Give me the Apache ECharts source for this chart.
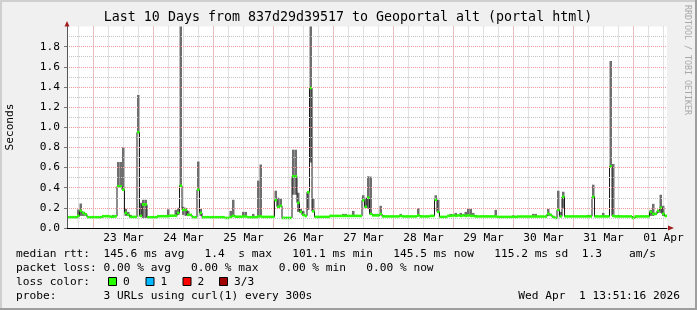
<!DOCTYPE html>
<html><head><meta charset="utf-8">
<script src="https://cdn.jsdelivr.net/npm/echarts@6/dist/echarts.min.js"></script>
<style>html,body{margin:0;padding:0;background:#f0f0f0}#c{width:697px;height:310px}</style>
</head><body><div id="c"></div>
<script>
// ---------------- data ----------------
const titleText = 'Last 10 Days from 837d29d39517 to Geoportal alt (portal html)';
const yAxisName = 'Seconds';
const dayLabels = ['23 Mar','24 Mar','25 Mar','26 Mar','27 Mar','28 Mar','29 Mar','30 Mar','31 Mar','01 Apr'];
const startHour = -10.6;   // graph start, hours relative to 23 Mar 00:00
const stepHours = 1;       // one consolidated step = 1 hour
// median RTT per step (seconds)
const median = [
0.107,0.107,0.107,0.107,0.12,0.17,0.15,0.135,0.107,0.107,
0.107,0.107,0.107,0.107,0.117,0.117,0.117,0.112,0.112,0.117,
0.414,0.414,0.38,0.15,0.13,0.11,0.11,0.11,0.95,0.12,
0.233,0.233,0.107,0.107,0.107,0.107,0.117,0.117,0.117,0.117,
0.117,0.122,0.122,0.122,0.15,0.42,0.18,0.18,0.13,0.13,
0.107,0.107,0.38,0.15,0.107,0.107,0.107,0.107,0.107,0.107,
0.107,0.107,0.107,0.1,0.1,0.11,0.12,0.112,0.112,0.112,
0.115,0.115,0.107,0.107,0.107,0.107,0.115,0.115,0.11,0.11,
0.11,0.11,0.11,0.275,0.21,0.22,0.1,0.1,0.1,0.1,
0.513,0.513,0.25,0.16,0.13,0.12,0.355,1.39,0.166,0.11,
0.11,0.11,0.11,0.11,0.11,0.12,0.12,0.12,0.12,0.12,
0.12,0.12,0.12,0.12,0.12,0.12,0.12,0.12,0.275,0.21,
0.3,0.14,0.125,0.125,0.125,0.14,0.115,0.115,0.115,0.115,
0.115,0.115,0.115,0.12,0.115,0.115,0.115,0.115,0.115,0.115,
0.125,0.115,0.115,0.115,0.115,0.12,0.12,0.28,0.16,0.11,
0.11,0.11,0.12,0.12,0.125,0.12,0.125,0.12,0.125,0.12,
0.125,0.12,0.12,0.115,0.115,0.115,0.115,0.115,0.115,0.115,
0.115,0.115,0.11,0.11,0.11,0.11,0.11,0.11,0.11,0.11,
0.114,0.114,0.114,0.114,0.114,0.114,0.114,0.114,0.114,0.114,
0.114,0.114,0.14,0.13,0.11,0.1,0.18,0.115,0.31,0.115,
0.115,0.115,0.115,0.115,0.115,0.115,0.115,0.115,0.115,0.115,
0.31,0.115,0.115,0.115,0.115,0.115,0.115,0.61,0.12,0.115,
0.115,0.115,0.115,0.115,0.115,0.115,0.1,0.115,0.115,0.115,
0.115,0.115,0.115,0.16,0.14,0.14,0.17,0.2,0.14,0.12
];
// smoke (ping spread) per step: [step index, low, high]
const smoke = [
[4,0.107,0.183],[5,0.12,0.243],[6,0.12,0.16],[7,0.12,0.15],[18,0.112,0.13],
[20,0.414,0.655],[21,0.414,0.655],[22,0.38,0.80],[23,0.12,0.19],[24,0.12,0.16],[25,0.11,0.13],
[28,0.95,1.32],[29,0.12,0.25],[30,0.1,0.28],[31,0.1,0.28],
[40,0.117,0.185],[43,0.122,0.18],[44,0.13,0.2],[45,0.42,2.3],[46,0.13,0.21],[47,0.12,0.2],[48,0.12,0.17],
[52,0.38,0.66],[53,0.12,0.19],
[65,0.11,0.17],[66,0.12,0.28],[70,0.115,0.16],[71,0.115,0.16],[74,0.107,0.14],
[76,0.12,0.47],[77,0.12,0.63],
[83,0.27,0.37],[84,0.2,0.3],[85,0.21,0.29],
[90,0.33,0.777],[91,0.33,0.777],[92,0.16,0.35],[93,0.15,0.19],[94,0.12,0.17],
[96,0.18,0.36],[97,0.65,2.3],[98,0.17,0.29],
[105,0.12,0.13],[110,0.12,0.14],[111,0.12,0.14],[114,0.12,0.17],
[118,0.27,0.325],[119,0.2,0.3],[120,0.19,0.513],[121,0.14,0.51],
[122,0.125,0.14],[123,0.125,0.14],[124,0.125,0.14],[125,0.14,0.22],[126,0.115,0.13],
[133,0.12,0.14],[140,0.125,0.196],[147,0.28,0.325],[148,0.16,0.28],
[153,0.12,0.14],[155,0.12,0.15],[157,0.12,0.15],[158,0.12,0.14],[159,0.12,0.16],
[160,0.12,0.19],[161,0.12,0.19],[162,0.12,0.15],[163,0.115,0.13],
[171,0.115,0.18],[178,0.11,0.125],[186,0.114,0.14],[187,0.114,0.14],
[192,0.12,0.19],[193,0.12,0.14],[196,0.18,0.37],[197,0.12,0.16],[198,0.2,0.36],
[208,0.115,0.13],[209,0.115,0.13],[210,0.31,0.43],[214,0.115,0.15],
[217,0.61,1.658],[218,0.13,0.635],[220,0.115,0.13],
[233,0.12,0.18],[234,0.12,0.24],[236,0.15,0.18],[237,0.15,0.33],[238,0.12,0.22]
];
const rttRow = 'median rtt:  145.6 ms avg   1.4  s max   101.1 ms min   145.5 ms now   115.2 ms sd  1.3    am/s';
const lossRow = 'packet loss: 0.00 % avg   0.00 % max   0.00 % min   0.00 % now';
const lossColorLabel = 'loss color:';
const lossColorNames = ['0', '1', '2', '3/3'];
const lossColorValues = ['#26ff00', '#00b8ff', '#ff0000', '#a00000'];
const probeRow = 'probe:       3 URLs using curl(1) every 300s';
const dateText = 'Wed Apr  1 13:51:16 2026';
const sideText = 'RRDTOOL / TOBI OETIKER';

// ---------------- layout ----------------
const FONT = 'DejaVu Sans Mono';
const FS = 11.2;
const PX_PER_H = 2.5, plotLeft = 67, plotTop = 26.5, plotH = 201.5;
const nSteps = median.length;
const xMin = startHour, xMax = startHour + nSteps * stepHours;
const plotW = (xMax - xMin) * PX_PER_H;
const minorMin = -12, minorMax = 234, majorMin = 0, majorMax = 216;
const xl = v => plotLeft + (v - xMin) * PX_PER_H;

const medData = median.map((m, i) => [xMin + i * stepHours, m]);
const medLine = medData.concat([[xMax, median[nSteps - 1]]]);
const smokeData = smoke.map(s => [xMin + s[0] * stepHours, s[1], s[2]]);

function clipTo(params, r) {
  const cs = params.coordSys;
  return echarts.graphic.clipRectByRect(r, {x: cs.x, y: cs.y, width: cs.width, height: cs.height});
}

const chart = echarts.init(document.getElementById('c'), null, {renderer: 'canvas'});
const fontStr = s => s + 'px "' + FONT + '"';
const txt = (x, y, t, extra) => Object.assign({type: 'text', x: x, y: y, silent: true, z: 10,
  style: Object.assign({text: t, font: fontStr(FS), fill: '#000', textVerticalAlign: 'middle'}, (extra || {}))});

const graphics = [];
// plot canvas (white), behind grid lines
graphics.push({type:'rect', z: -10, silent:true, shape:{x:plotLeft, y:plotTop, width:plotW, height:plotH}, style:{fill:'#ffffff'}});
// frame shades
graphics.push({type:'rect', shape:{x:0,y:0,width:697,height:2}, style:{fill:'#cfcfcf'}, silent:true});
graphics.push({type:'rect', shape:{x:0,y:0,width:2,height:310}, style:{fill:'#cfcfcf'}, silent:true});
graphics.push({type:'rect', shape:{x:695,y:0,width:2,height:310}, style:{fill:'#9e9e9e'}, silent:true});
graphics.push({type:'rect', shape:{x:0,y:308,width:697,height:2}, style:{fill:'#9e9e9e'}, silent:true});
// title
graphics.push({type:'text', x: 348, y: 18, silent:true, style:{text: titleText, font: fontStr(13.3), fill:'#000', textAlign:'center', textVerticalAlign:'middle'}});
// side text
graphics.push({type:'text', x: 687, y: 5, rotation: -Math.PI/2, silent:true, style:{text: sideText, font: fontStr(8.3), fill:'#a8a8a8', textAlign:'left', textVerticalAlign:'middle'}});
// y name
graphics.push({type:'text', x: 10, y: 127, rotation: Math.PI/2, silent:true, style:{text: yAxisName, font: fontStr(FS), fill:'#000', textAlign:'center', textVerticalAlign:'middle'}});
// arrows
graphics.push({type:'polygon', z: 10, shape:{points:[[plotLeft-2.5,26.5],[plotLeft+2.5,26.5],[plotLeft,21]]}, style:{fill:'#a02020'}, silent:true});
graphics.push({type:'polygon', z: 10, shape:{points:[[plotLeft+plotW+1,225.5],[plotLeft+plotW+1,230.5],[plotLeft+plotW+7,228]]}, style:{fill:'#a02020'}, silent:true});
// legend rows
const rowY = [254, 268, 282, 296];
graphics.push(txt(16, rowY[0], rttRow));
graphics.push(txt(16, rowY[1], lossRow));
graphics.push(txt(16, rowY[2], lossColorLabel));
const boxX = [108, 145.5, 182.5, 219];
lossColorNames.forEach((n, i) => {
  graphics.push({type:'rect', z: 10, shape:{x: boxX[i] + 0.5, y: rowY[2] - 4.5, width: 8, height: 8}, style:{fill: lossColorValues[i], stroke:'#000', lineWidth:1}, silent:true});
  graphics.push(txt(boxX[i] + 15, rowY[2], n));
});
graphics.push(txt(16, rowY[3], probeRow));
graphics.push(txt(680, rowY[3], dateText, {textAlign:'right'}));

const hiddenY = i => ({gridIndex: i, type:'value', min:0, max:2, show:false});

const option = {
  animation: false,
  backgroundColor: '#f0f0f0',
  grid: [
    {left: plotLeft, top: plotTop, width: plotW, height: plotH},
    {left: xl(minorMin), top: plotTop, width: (minorMax - minorMin) * PX_PER_H, height: plotH},
    {left: xl(majorMin), top: plotTop, width: (majorMax - majorMin) * PX_PER_H, height: plotH}
  ],
  xAxis: [
    {gridIndex: 0, type:'value', min: xMin, max: xMax, z: 6,
     axisLine:{show:true, onZero:false, lineStyle:{color:'#000', width:1}},
     axisTick:{show:false}, axisLabel:{show:false}, splitLine:{show:false}},
    {gridIndex: 1, type:'value', min: minorMin, max: minorMax, interval: 6,
     axisLine:{show:false}, axisTick:{show:false},
     axisLabel:{show:true, margin: 5, fontFamily: FONT, fontSize: FS, color:'#000',
       showMinLabel:false, showMaxLabel:false,
       formatter: v => { const k = Math.round((v - 12) / 24); return (Math.abs(v - 12 - 24 * k) < 1e-6 && k >= 0 && k < dayLabels.length) ? dayLabels[k] : ''; }},
     splitLine:{show:true, showMinLine:false, showMaxLine:false, lineStyle:{color:'#c4c4c4', width:1, type:[1,1]}}},
    {gridIndex: 2, type:'value', min: majorMin, max: majorMax, interval: 24,
     axisLine:{show:false}, axisTick:{show:false}, axisLabel:{show:false},
     splitLine:{show:true, lineStyle:{color:'#f09a9a', width:1, type:[1,1]}}}
  ],
  yAxis: [
    {gridIndex: 0, type:'value', min:0, max:2, interval:0.2, z: 6,
     axisLine:{show:true, onZero:false, lineStyle:{color:'#555', width:1}},
     axisTick:{show:true, length:3, lineStyle:{color:'#777'}},
     axisLabel:{margin: 7, fontFamily: FONT, fontSize: FS, color:'#000', showMaxLabel:false, formatter: v => v.toFixed(1)},
     splitLine:{show:true, showMinLine:false, showMaxLine:false, lineStyle:{color:'#f09a9a', width:1, type:[1,1]}},
     minorTick:{show:false, splitNumber:2},
     minorSplitLine:{show:true, lineStyle:{color:'#c4c4c4', width:1, type:[1,1]}}},
    hiddenY(1), hiddenY(2)
  ],
  series: [
    {type:'custom', xAxisIndex:0, yAxisIndex:0, data: smokeData, z: 3,
     encode:{x:0, y:[1,2]},
     renderItem: (params, api) => {
       const t = api.value(0), lo = api.value(1), hi = api.value(2);
       const a = api.coord([t, hi]), b = api.coord([t + stepHours, lo]);
       const r = clipTo(params, {x:a[0], y:a[1], width:b[0]-a[0], height:b[1]-a[1]});
       return r ? {type:'rect', shape:r, style:{fill:'#6e6e6e'}} : null;
     }},
    {type:'line', xAxisIndex:0, yAxisIndex:0, data: medLine, step:'end', symbol:'none', z: 4,
     lineStyle:{color:'#1a1a1a', width:1}},
    {type:'custom', xAxisIndex:0, yAxisIndex:0, data: medData, z: 5,
     encode:{x:0, y:1},
     renderItem: (params, api) => {
       const t = api.value(0), m = api.value(1);
       const a = api.coord([t, m]), b = api.coord([t + stepHours, m]);
       const r = clipTo(params, {x:a[0], y:a[1]-1.3, width:b[0]-a[0], height:2.6});
       return r ? {type:'rect', shape:r, style:{fill: lossColorValues[0]}} : null;
     }}
  ],
  graphic: graphics
};
chart.setOption(option);
</script></body></html>
